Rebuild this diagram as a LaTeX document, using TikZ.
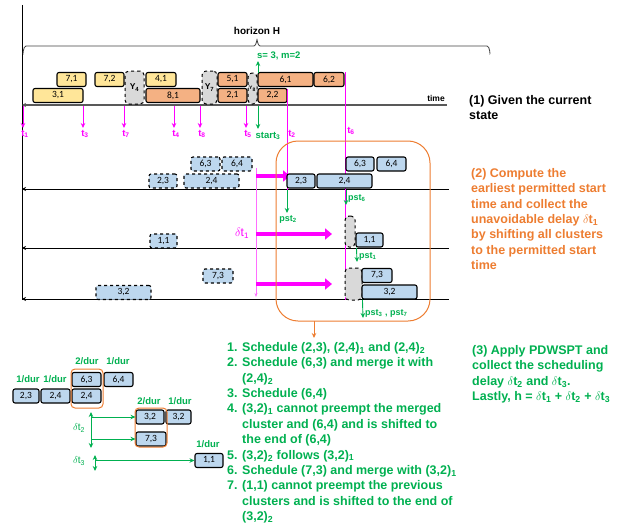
\documentclass[tikz,border=0pt]{standalone}
\usepackage{fontspec}
\setmainfont{Liberation Sans}
\newfontfamily\jobfont{Carlito}
\usetikzlibrary{arrows.meta,calc}

\begin{document}
\begin{tikzpicture}[
  x=1pt, y=-1pt,
  >={Stealth[length=5pt,width=4.5pt]},
  font=\bfseries\fontsize{12.5}{15.4}\selectfont,
  job/.style={draw=black, line width=1.1pt, rounded corners=2pt, inner sep=0pt,
    minimum height=14pt, font=\jobfont\fontsize{9.5}{10}\selectfont},
  plan/.style={job, dashed},
  idle/.style={draw=black, line width=1pt, dashed, rounded corners=4pt,
    fill=idlegray, inner sep=0pt, font=\bfseries\fontsize{8.5}{9}\selectfont},
  axisline/.style={{Stealth[length=4pt,width=4pt]}-, line width=.8pt},
  tarrow/.style={->, draw=mag, line width=.8pt},
  tlabel/.style={text=mag, font=\bfseries\fontsize{9.5}{10}\selectfont, inner sep=1pt},
  push/.style={-{Triangle[length=7pt,width=11pt]}, draw=mag, line width=4.5pt},
  garrow/.style={->, draw=grn, line width=.9pt},
  glabel/.style={text=grn, font=\bfseries\fontsize{9}{10}\selectfont, inner sep=1pt},
  weight/.style={text=grn, font=\bfseries\fontsize{9.5}{10}\selectfont},
  cluster/.style={draw=orng, line width=1pt, rounded corners=4pt},
  stepnote/.style={anchor=north west, align=left, inner sep=0pt}
]

\definecolor{yel}{RGB}{255,230,153}
\definecolor{org}{RGB}{244,177,131}
\definecolor{blu}{RGB}{189,215,238}
\definecolor{idlegray}{RGB}{217,217,217}
\definecolor{mag}{RGB}{255,0,255}
\definecolor{pink}{RGB}{255,110,255}
\definecolor{grn}{RGB}{0,176,80}
\definecolor{orng}{RGB}{237,125,49}
\definecolor{axisgray}{RGB}{89,89,89}

\useasboundingbox (0,0) rectangle (626,527);

% Time frame and horizon
\draw[line width=.9pt] (22,5) -- (22,300);
\draw[draw=black!75, line width=.8pt]
  (23,53) to[out=-90,in=180] (26,46) -- (254,46)
  to[out=0,in=90] (257,40) to[out=90,in=180] (260,46) -- (487,46)
  to[out=0,in=-90] (490,53);
\node[font=\bfseries\fontsize{10}{12}\selectfont] (hor) at (257,31) {horizon H};

\draw[axisline, draw=axisgray, line width=1.6pt] (22,105) -- (447,105);
\node[font=\bfseries\fontsize{8.5}{9}\selectfont] (time) at (436,98) {time};
\foreach \y in {189,248,299}{
  \draw[axisline] (22,\y) -- (449,\y);
}

% (1) current state
\node[job,fill=yel,minimum width=29] (b71) at (71.5,79.5) {7,1};
\node[job,fill=yel,minimum width=50] (b31) at (58,95.5) {3,1};
\node[job,fill=yel,minimum width=29] (b72) at (109.5,79.5) {7,2};
\node[idle,minimum width=19,minimum height=33] (y4) at (134.5,87.5) {Y\textsubscript{4}};
\node[job,fill=yel,minimum width=30] (b41) at (161,79.5) {4,1};
\node[job,fill=org,minimum width=54] (b81) at (173,95.5) {8,1};
\node[idle,minimum width=15,minimum height=33] (y7) at (209.5,87.5) {Y\textsubscript{7}};
\node[job,fill=org,minimum width=29] (b51) at (232.5,79.5) {5,1};
\node[job,fill=org,minimum width=29] (b21) at (232.5,95.5) {2,1};
\node[idle,minimum width=9,minimum height=31,
  font=\bfseries\fontsize{5}{6}\selectfont] (y8) at (252.5,88.5) {Y\textsubscript{8}};
\node[job,fill=org,minimum width=55] (b61) at (285.5,79.5) {6,1};
\node[job,fill=org,minimum width=30] (b62) at (329,79.5) {6,2};
\node[job,fill=org,minimum width=29] (b22) at (272.5,95.5) {2,2};

\foreach \x/\n in {23/1,83/3,124/7,174/4,200/8,246/5}{
  \coordinate (t\n) at (\x,106);
  \node[tlabel,anchor=north] (lt\n) at (\x+2,129) {t\textsubscript{\n}};
  \draw[tarrow] (t\n) -- (\x,128);
}

\coordinate (s3) at (258,73);
\node[glabel,anchor=south west,font=\bfseries\fontsize{9.5}{10}\selectfont]
  (sm) at (256,61) {s= 3, m=2};
\draw[garrow] (s3) -- (258,61);
\coordinate (st3) at (258,106);
\node[glabel,anchor=north,font=\bfseries\fontsize{9.5}{10}\selectfont]
  (lst3) at (268,131) {start\textsubscript{3}};
\draw[garrow] (st3) -- (258,129);

% permitted start lines
\coordinate (t2) at (287,89);
\coordinate (t6) at (345,72);
\draw[draw=mag, line width=.8pt] (t2) -- (287,190);
\draw[draw=mag, line width=.8pt] (t6) -- (345,300);
\node[tlabel,anchor=north] (lt2) at (292,129) {t\textsubscript{2}};
\node[tlabel,anchor=north] (lt6) at (351,126) {t\textsubscript{6}};

% (2) planned clusters before the shift
\node[plan,fill=blu,minimum width=28] (p23) at (163,181) {2,3};
\node[plan,fill=blu,minimum width=55] (p24) at (211.5,181) {2,4};
\node[plan,fill=blu,minimum width=29] (p63) at (205.5,164) {6,3};
\node[plan,fill=blu,minimum width=30] (p64) at (237,164) {6,4};
\node[plan,fill=blu,minimum width=27] (p11) at (163.5,241) {1,1};
\node[plan,fill=blu,minimum width=30] (p73) at (218,276) {7,3};
\node[plan,fill=blu,minimum width=55] (p32) at (123.5,292.5) {3,2};

% shift by delta t1
\coordinate (d1top) at (256,168);
\coordinate (d1bot) at (256,297);
\draw[draw=pink, line width=.8pt, -{Stealth[length=4pt,width=3pt]}] (d1top) -- (d1bot);
\draw[push] (256,176) -- (290,176);
\draw[push] (256,234) -- (332,234);
\draw[push] (256,284) -- (332,284);
\node[text=mag, font=\fontsize{12}{13}\selectfont] (d1) at (242,233) {$\delta$t\textsubscript{1}};

% clusters after the shift
\node[job,fill=blu,minimum width=28] (a23) at (301,181) {2,3};
\node[job,fill=blu,minimum width=55] (a24) at (344.5,181) {2,4};
\node[job,fill=blu,minimum width=28] (a63) at (360,164) {6,3};
\node[job,fill=blu,minimum width=29] (a64) at (391.5,164) {6,4};
\node[idle,minimum width=10,minimum height=31] (g1) at (350,231.5) {};
\node[job,fill=blu,minimum width=27] (a11) at (369.5,240) {1,1};
\node[idle,minimum width=17,minimum height=32] (g2) at (353.5,284) {};
\node[job,fill=blu,minimum width=30] (a73) at (377,275.5) {7,3};
\node[job,fill=blu,minimum width=55] (a32) at (389.5,292) {3,2};

\draw[garrow] (287,190) -- (287,213);
\node[glabel,anchor=north] (pst2) at (288,214) {pst\textsubscript{2}};
\draw[garrow] (346,190) -- (346,205);
\node[glabel,anchor=west] (pst6) at (347,198) {pst\textsubscript{6}};
\draw[garrow] (a11.south west) ++(1,0) -- (357,262);
\node[glabel,anchor=west] (pst1) at (358,256) {pst\textsubscript{1}};
\draw[garrow] (a32.south west) ++(1,0) -- (363,318);
\node[glabel,anchor=west] (pst37) at (364,313) {pst\textsubscript{3} , pst\textsubscript{7}};

\draw[draw=orng, line width=1pt, rounded corners=22pt] (276,141) rectangle (430,321);
\coordinate (box) at (314,321);
\draw[->, draw=orng, line width=.9pt] (box) -- (314,338);

% (3) PDWSPT schedule
\node[job,fill=blu,minimum width=29] (c63) at (86.5,379.5) {6,3};
\node[job,fill=blu,minimum width=29] (c64) at (118.5,379.5) {6,4};
\node[job,fill=blu,minimum width=26] (c23) at (26,396) {2,3};
\node[job,fill=blu,minimum width=29] (c24a) at (55.5,396) {2,4};
\node[job,fill=blu,minimum width=29] (c24b) at (86.5,396) {2,4};
\draw[cluster] (71,369) rectangle (103,408);
\node[job,fill=blu,minimum width=28] (c32a) at (150,417) {3,2};
\node[job,fill=blu,minimum width=25] (c32b) at (178.5,417) {3,2};
\node[job,fill=blu,minimum width=30] (c73) at (151,439) {7,3};
\draw[cluster] (135,408) rectangle (167,447);
\node[job,fill=blu,minimum width=28] (c11) at (209,460.5) {1,1};

\node[weight] (w63) at (87,361) {2/dur};
\node[weight] (w64) at (118,361) {1/dur};
\node[weight] (w23) at (28,379) {1/dur};
\node[weight] (w24) at (55,379) {1/dur};
\node[weight] (w32a) at (149,401) {2/dur};
\node[weight] (w32b) at (180,401) {1/dur};
\node[weight] (w11) at (208,444) {1/dur};

\coordinate (d2t) at (91,412);
\coordinate (d2b) at (91,448);
\draw[garrow,<->] (d2t) -- (d2b);
\draw[garrow] (c32a.west -| d2t) -- (c32a.west);
\draw[garrow] (c73.west -| d2t) -- (c73.west);
\node[text=grn, font=\fontsize{10}{11}\selectfont] (d2) at (79,428) {$\delta$t\textsubscript{2}};
\coordinate (d3t) at (95,455);
\coordinate (d3b) at (95,471);
\draw[garrow,<->] (d3t) -- (d3b);
\draw[garrow] (c11.west -| d3t) -- (c11.west);
\node[text=grn, font=\fontsize{10}{11}\selectfont] (d3) at (79,461) {$\delta$t\textsubscript{3}};

% step texts
\node[stepnote] (st1) at (469,95) {(1) Given the current\\state};
\node[stepnote,text=orng] (st2) at (471,168)
  {(2) Compute the\\earliest permitted start\\time and collect the\\unavoidable delay $\delta$t\textsubscript{1}\\by shifting all clusters\\to the permitted start\\time};
\node[stepnote,text=grn] (st3) at (472,345)
  {(3) Apply PDWSPT and\\collect the scheduling\\delay $\delta$t\textsubscript{2} and $\delta$t\textsubscript{3}.\\Lastly, h = $\delta$t\textsubscript{1} + $\delta$t\textsubscript{2} + $\delta$t\textsubscript{3}};
\node[stepnote,text=grn] (list) at (227,342)
  {\makebox[15pt][l]{1.}Schedule (2,3), (2,4)\textsubscript{1} and (2,4)\textsubscript{2}\\
   \makebox[15pt][l]{2.}Schedule (6,3) and merge it with\\
   \hspace*{15pt}(2,4)\textsubscript{2}\\
   \makebox[15pt][l]{3.}Schedule (6,4)\\
   \makebox[15pt][l]{4.}(3,2)\textsubscript{1} cannot preempt the merged\\
   \hspace*{15pt}cluster and (6,4) and is shifted to\\
   \hspace*{15pt}the end of (6,4)\\
   \makebox[15pt][l]{5.}(3,2)\textsubscript{2} follows (3,2)\textsubscript{1}\\
   \makebox[15pt][l]{6.}Schedule (7,3) and merge with (3,2)\textsubscript{1}\\
   \makebox[15pt][l]{7.}(1,1) cannot preempt the previous\\
   \hspace*{15pt}clusters and is shifted to the end of\\
   \hspace*{15pt}(3,2)\textsubscript{2}};

\end{tikzpicture}
\end{document}
